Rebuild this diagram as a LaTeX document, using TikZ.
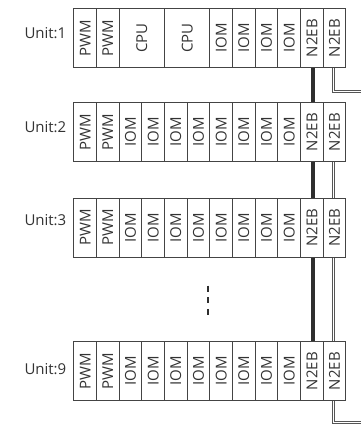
\documentclass[tikz,border=0pt]{standalone}
\usepackage{fontspec}
\usepackage{graphicx}
\setmainfont{Open Sans}
\definecolor{linec}{HTML}{444444}
\definecolor{txtc}{HTML}{333333}
\definecolor{busc}{HTML}{2E2E2E}
\definecolor{dblc}{HTML}{555555}
\tikzset{
  cell/.style={draw=linec, line width=1.1pt, minimum width=22.67pt, minimum height=59pt,
    inner sep=0pt, text=txtc, font=\fontsize{15}{18}\selectfont, anchor=north west},
  widecell/.style={cell, minimum width=45.33pt},
  unitlabel/.style={anchor=base east, inner sep=0pt, text=txtc, font=\fontsize{15}{18}\selectfont},
  bus/.style={draw=busc, line width=4pt},
  dbl/.style={draw=dblc, line width=0.9pt, double=white, double distance=1.3pt},
  ellip/.style={draw=busc, line width=2pt, dash pattern=on 6pt off 5.6pt},
}
\begin{document}
\begin{tikzpicture}[x=1pt,y=-1pt]
\useasboundingbox (0,0) rectangle (361,424);
% Unit 1
\node[cell] (u1-c1) at (73.33,8) {\rotatebox{90}{PWM}};
\node[cell] (u1-c2) at (96,8) {\rotatebox{90}{PWM}};
\node[widecell] (u1-c3) at (118.67,8) {\rotatebox{90}{CPU}};
\node[widecell] (u1-c5) at (164,8) {\rotatebox{90}{CPU}};
\foreach \i in {7,...,10} \node[cell] (u1-c\i) at ({73.33+(\i-1)*22.667},8) {\rotatebox{90}{IOM}};
\node[cell] (u1-c11) at ({73.33+10*22.667},8) {\rotatebox{90}{N2EB}};
\node[cell] (u1-c12) at ({73.33+11*22.667},8) {\rotatebox{90}{N2EB}};
\node[unitlabel] (lab1) at (66.5,38.3) {Unit:1};
% Units 2, 3, 9
\foreach \u/\y/\b in {2/102/132.5,3/197.5/225.2,9/341/374.5} {
  \node[cell] (u\u-c1) at (73.33,\y) {\rotatebox{90}{PWM}};
  \node[cell] (u\u-c2) at (96,\y) {\rotatebox{90}{PWM}};
  \foreach \i in {3,...,10} \node[cell] (u\u-c\i) at ({73.33+(\i-1)*22.667},\y) {\rotatebox{90}{IOM}};
  \node[cell] (u\u-c11) at ({73.33+10*22.667},\y) {\rotatebox{90}{N2EB}};
  \node[cell] (u\u-c12) at ({73.33+11*22.667},\y) {\rotatebox{90}{N2EB}};
  \node[unitlabel] (lab\u) at (66.5,\b) {Unit:\u};
}
% thick bus
\draw[bus] ([xshift=1.2pt]u1-c11.south) -- ([xshift=1.2pt]u2-c11.north);
\draw[bus] ([xshift=1.2pt]u2-c11.south) -- ([xshift=1.2pt]u3-c11.north);
\draw[bus] ([xshift=1.2pt]u3-c11.south) -- ([xshift=1.2pt]u9-c11.north);
% double line
\coordinate (outTop) at (361,91.5);
\coordinate (outBot) at (361,422.2);
\draw[dbl] ([xshift=-1pt]u1-c12.south) |- (outTop);
\draw[dbl] ([xshift=-1pt]u2-c12.south) -- ([xshift=-1pt]u3-c12.north);
\draw[dbl] ([xshift=-1pt]u3-c12.south) -- ([xshift=-1pt]u9-c12.north);
\draw[dbl] ([xshift=-1pt]u9-c12.south) |- (outBot);
% ellipsis
\coordinate (eA) at (208.3,285.7);
\coordinate (eB) at (208.3,315.3);
\draw[ellip] (eA) -- (eB);
\end{tikzpicture}
\end{document}
